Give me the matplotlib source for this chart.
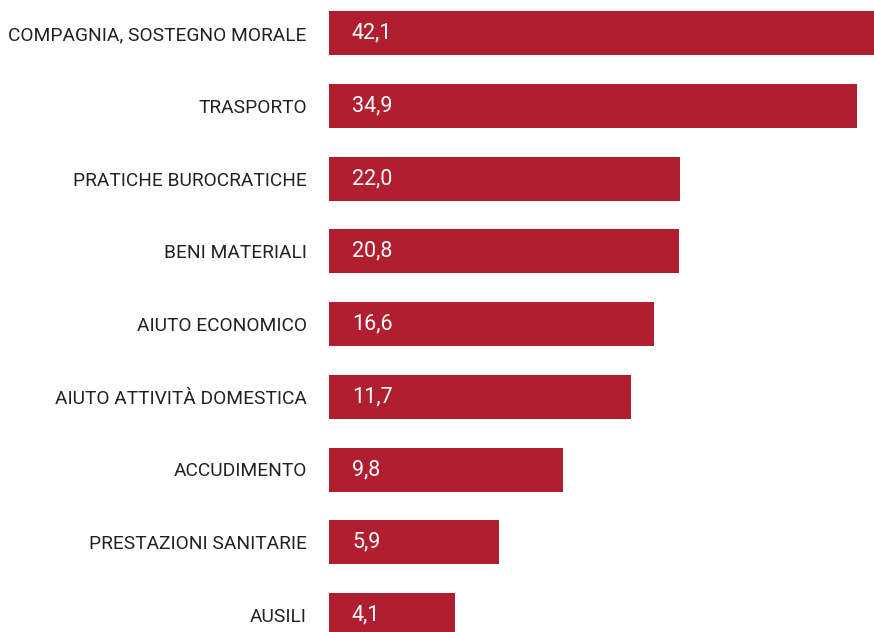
import matplotlib
matplotlib.use("Agg")
import matplotlib.pyplot as plt

categories = [
    "COMPAGNIA, SOSTEGNO MORALE",
    "TRASPORTO",
    "PRATICHE BUROCRATICHE",
    "BENI MATERIALI",
    "AIUTO ECONOMICO",
    "AIUTO ATTIVITÀ DOMESTICA",
    "ACCUDIMENTO",
    "PRESTAZIONI SANITARIE",
    "AUSILI",
]
values = [42.1, 34.9, 22.0, 20.8, 16.6, 11.7, 9.8, 5.9, 4.1]
# bar lengths as drawn in the picture (same scale as the top bar's value)
bar_lengths = [42.1, 40.8, 27.1, 27.0, 25.1, 23.3, 18.1, 13.1, 9.7]

plt.rcParams['font.family'] = ['Roboto', 'DejaVu Sans']

fig = plt.figure(figsize=(8.74, 6.32), dpi=100)
ax = fig.add_axes([329 / 874, 0, 545 / 874, 1])

bar_color = "#B01E30"
pos = list(range(len(categories)))
ax.barh(pos, bar_lengths, height=44 / 72.75, color=bar_color)
ax.set_xlim(0, max(bar_lengths))
ax.set_ylim(8 + 17 / 72.75, -33 / 72.75)

for p, v in zip(pos, values):
    ax.text(23 / 545 * max(bar_lengths), p, f"{v:.1f}".replace(".", ","),
            color="white", fontsize=15.5, va="center", ha="left")

ax.set_yticks(pos)
ax.set_yticklabels(categories, fontsize=13.8, color="#222222")
ax.tick_params(axis="y", length=0, pad=16)
ax.set_xticks([])
for s in ax.spines.values():
    s.set_visible(False)

fig.savefig("out.png", dpi=100)
